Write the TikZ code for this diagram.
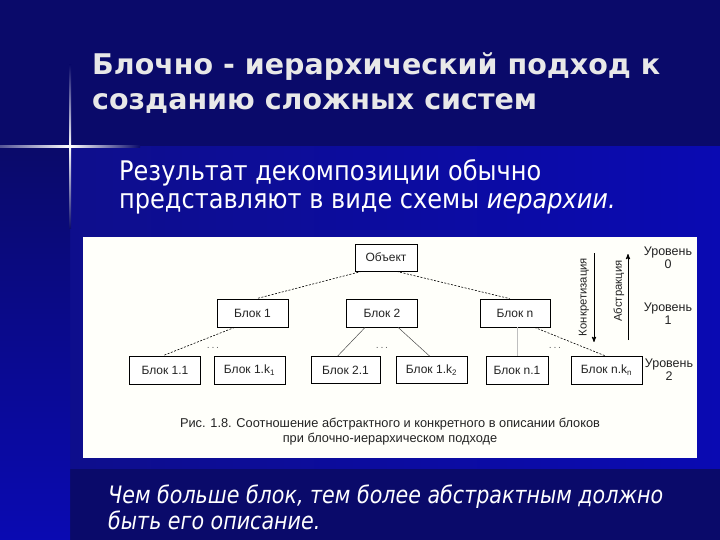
\documentclass[tikz,border=0pt]{standalone}
\usepackage{fontspec}
\setmainfont{Liberation Sans}
\newfontfamily\slidefont{DejaVu Sans}
\newfontfamily\slidenarrow{DejaVu Sans}[FakeStretch=0.89]
\newfontfamily\notenarrow{DejaVu Sans}[FakeStretch=0.86]
\usetikzlibrary{calc}
\usetikzlibrary{arrows}

\definecolor{navy}{RGB}{10,10,106}
\definecolor{midblue}{RGB}{14,14,140}
\definecolor{brightblue}{RGB}{10,10,178}
\definecolor{paper}{RGB}{255,255,250}
\definecolor{ink}{RGB}{35,35,35}
\definecolor{titlegray}{RGB}{232,232,232}

\begin{document}
\begin{tikzpicture}[x=1pt,y=-1pt,
  blok/.style={draw=black, line width=.8pt, fill=white, minimum width=71pt, minimum height=28pt,
    inner sep=0pt, text=ink, font=\fontsize{12}{14}\selectfont},
  lvl/.style={align=center, text=ink, font=\fontsize{12.5}{13}\selectfont},
  dotsn/.style={text=black!60, font=\bfseries\fontsize{7}{7}\selectfont, inner sep=0pt},
  dashlink/.style={black, line width=.6pt, dash pattern=on 2pt off 1.5pt},
  thinlink/.style={black!70, line width=.5pt},
  slide/.style={anchor=base west, inner sep=0pt, text=white}]
\useasboundingbox (0,0) rectangle (720,540);
% background
\fill[navy] (0,0) rectangle (720,540);
\shade[left color=midblue, right color=brightblue] (70,147) rectangle (720,468);
\shade[top color=navy, bottom color=brightblue] (0,147) rectangle (70,540);
\shade[top color=navy, bottom color=navy, middle color=white] (69,65) rectangle (71,229);
\shade[left color=navy!70!white, right color=navy, middle color=white] (0,146) rectangle (140,148);

% title and text
\node[slide, text=titlegray, font=\slidefont\bfseries\fontsize{28.5}{34}\selectfont] (title1) at (92,75) {Блочно - иерархический подход к};
\node[slide, text=titlegray, font=\slidefont\bfseries\fontsize{28.5}{34}\selectfont] (title2) at (92,110) {созданию сложных систем};
\node[slide, font=\slidenarrow\fontsize{27}{31}\selectfont] (sub1) at (119,181) {Результат декомпозиции обычно};
\node[slide, font=\slidenarrow\fontsize{27}{31}\selectfont] (sub2) at (119,209) {представляют в виде схемы \textit{иерархии.}};
\node[slide, font=\notenarrow\itshape\fontsize{24}{28}\selectfont] (note1) at (108,503) {Чем больше блок, тем более абстрактным должно};
\node[slide, font=\notenarrow\itshape\fontsize{24}{28}\selectfont] (note2) at (108,529) {быть его описание.};

% figure
\fill[paper] (83,237) rectangle (697,458);

\node[blok, minimum width=62pt, minimum height=27pt] (obj) at (386,257.5) {Объект};
\node[blok] (b1) at (252.5,313) {Блок 1};
\node[blok] (b2) at (382,313) {Блок 2};
\node[blok, minimum width=70pt] (bn) at (515,313) {Блок n};
\node[blok] (b11) at (165,370) {Блок 1.1};
\node[blok] (b1k) at (249.5,370) {Блок 1.k\textsubscript{1}};
\node[blok, minimum width=69pt, minimum height=27pt] (b21) at (345.5,370) {Блок 2.1};
\node[blok, minimum height=27pt] (b2k) at (431.5,370) {Блок 1.k\textsubscript{2}};
\node[blok, minimum width=62pt] (bn1) at (517,370) {Блок n.1};
\node[blok] (bnk) at (606.5,370) {Блок n.k\textsubscript{n}};

\node[dotsn] (dots1) at (213,348) {. . .};
\node[dotsn] (dots2) at (382,348) {. . .};
\node[dotsn] (dots3) at (555,348) {. . .};

\draw[dashlink] ([xshift=7pt]obj.south west) -- ([xshift=40pt]b1.north west);
\draw[dashlink] ([xshift=42pt]obj.south west) -- ([xshift=30pt]bn.north west);
\draw[dashlink] ([xshift=18pt]b1.south west) -- ([xshift=34pt]b11.north west);
\draw[thinlink] ([xshift=19pt]b2.south west) -- ([xshift=27pt]b21.north west);
\draw[thinlink] ([xshift=52pt]b2.south west) -- ([xshift=34pt]b2k.north west);
\draw[black!25, line width=.6pt] (bn1.north |- bn.south) -- (bn1.north);
\draw[dashlink] ([xshift=55pt]bn.south west) -- ([xshift=34pt]bnk.north west);

% concretization / abstraction
\coordinate (konTop) at (594,253);
\coordinate (konBot) at (594,342);
\coordinate (absBot) at (628,340);
\coordinate (absTop) at (628,254);
\draw[black, line width=.9pt, ->, >=stealth'] (konTop) -- (konBot);
\draw[black, line width=.9pt, ->, >=stealth'] (absBot) -- (absTop);
\node[rotate=90, text=ink, font=\fontsize{11.3}{13}\selectfont] (konLabel) at (584,297) {Конкретизация};
\node[rotate=90, text=ink, font=\fontsize{11.3}{13}\selectfont] (absLabel) at (619,291) {Абстракция};

\node[lvl] (lvl0) at (668,258) {Уровень\\0};
\node[lvl] (lvl1) at (668,314) {Уровень\\1};
\node[lvl] (lvl2) at (669,370) {Уровень\\2};

\node[align=center, text=ink, font=\fontsize{12.8}{15}\selectfont] (caption) at (390,432)
  {Рис. 1.8. Соотношение абстрактного и конкретного в описании блоков\\при блочно-иерархическом подходе};
\end{tikzpicture}
\end{document}
